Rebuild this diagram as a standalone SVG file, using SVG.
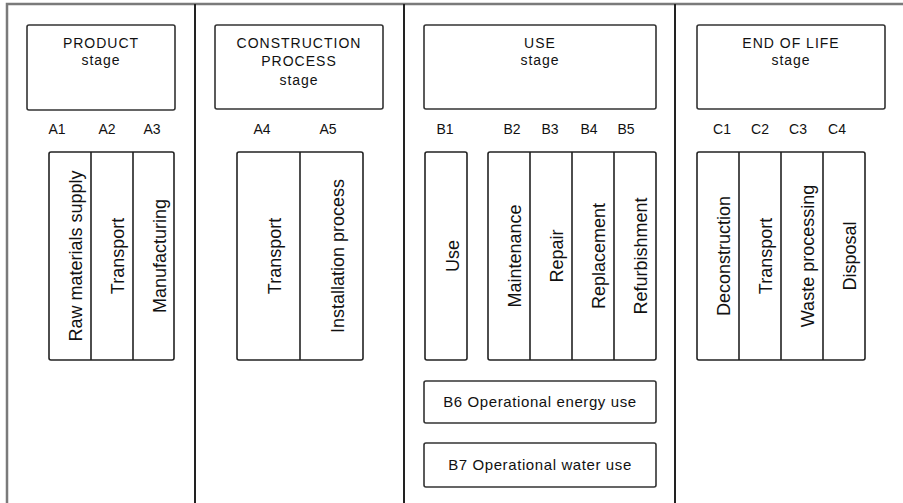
<svg xmlns="http://www.w3.org/2000/svg" width="903" height="503" viewBox="0 0 903 503">
<style>
.frame{fill:none;stroke:#7a7a7a;stroke-width:2.5}
.div{fill:none;stroke:#222;stroke-width:2}
.box{fill:#fff;stroke:#333;stroke-width:1.6}
.cell{fill:#fff;stroke:#222;stroke-width:1.6}
.hd{font-family:"Liberation Sans",Arial,sans-serif;font-size:14px;letter-spacing:1px;text-anchor:middle;fill:#111}
.lab{font-family:"Liberation Sans",Arial,sans-serif;font-size:14px;text-anchor:middle;fill:#111}
.rot{font-family:"Liberation Sans",Arial,sans-serif;font-size:18px;text-anchor:middle;fill:#111}
.op{font-family:"Liberation Sans",Arial,sans-serif;font-size:15px;letter-spacing:0.6px;text-anchor:middle;fill:#111}
</style>
<rect width="903" height="503" fill="#fff"/>
<g id="frame">
<path class="frame" d="M7,503 V4 H903"/>
<path class="div" d="M195,4 V503 M404,4 V503 M675,4 V503"/>
</g>
<g id="connectors"></g>

<g id="product-stage">
<rect class="box" x="27" y="25" width="148" height="85" rx="2"/>
<text class="hd" x="101" y="48">PRODUCT</text>
<text class="hd" x="101" y="65">stage</text>
</g>
<g id="labels-a1-a3">
<text class="lab" x="57" y="134">A1</text>
<text class="lab" x="107" y="134">A2</text>
<text class="lab" x="152" y="134">A3</text>
</g>
<g id="product-modules">
<rect class="cell" x="49" y="152" width="125" height="208" rx="2"/>
<path class="cell" d="M91,152 V360 M133,152 V360"/>
<text class="rot" transform="translate(70,256) rotate(-90)" y="12">Raw materials supply</text>
<text class="rot" transform="translate(112,256) rotate(-90)" y="12">Transport</text>
<text class="rot" transform="translate(153.5,256) rotate(-90)" y="12">Manufacturing</text>
</g>

<g id="construction-stage">
<rect class="box" x="215" y="25" width="168" height="84" rx="2"/>
<text class="hd" x="299" y="48">CONSTRUCTION</text>
<text class="hd" x="299" y="66">PROCESS</text>
<text class="hd" x="299" y="85">stage</text>
</g>
<g id="labels-a4-a5">
<text class="lab" x="262" y="134">A4</text>
<text class="lab" x="328" y="134">A5</text>
</g>
<g id="construction-modules">
<rect class="cell" x="237" y="152" width="126" height="208" rx="2"/>
<path class="cell" d="M300,152 V360"/>
<text class="rot" transform="translate(268.5,256) rotate(-90)" y="12">Transport</text>
<text class="rot" transform="translate(331.5,256) rotate(-90)" y="12">Installation process</text>
</g>

<g id="use-stage">
<rect class="box" x="424" y="25" width="232" height="84" rx="2"/>
<text class="hd" x="540" y="48">USE</text>
<text class="hd" x="540" y="65">stage</text>
</g>
<g id="labels-b1-b5">
<text class="lab" x="445" y="134">B1</text>
<text class="lab" x="512" y="134">B2</text>
<text class="lab" x="550" y="134">B3</text>
<text class="lab" x="589" y="134">B4</text>
<text class="lab" x="626" y="134">B5</text>
</g>
<g id="use-b1">
<rect class="cell" x="425" y="152" width="42" height="208" rx="2"/>
<text class="rot" transform="translate(446,256) rotate(-90)" y="13">Use</text>
</g>
<g id="use-b2-b5">
<rect class="cell" x="488" y="152" width="168" height="208" rx="2"/>
<path class="cell" d="M530,152 V360 M572,152 V360 M614,152 V360"/>
<text class="rot" transform="translate(509,256) rotate(-90)" y="12">Maintenance</text>
<text class="rot" transform="translate(551,256) rotate(-90)" y="12">Repair</text>
<text class="rot" transform="translate(593,256) rotate(-90)" y="12">Replacement</text>
<text class="rot" transform="translate(635,256) rotate(-90)" y="12">Refurbishment</text>
</g>
<g id="use-b6">
<rect class="box" x="424" y="381" width="232" height="42" rx="2"/>
<text class="op" x="540" y="407">B6 Operational energy use</text>
</g>
<g id="use-b7">
<rect class="box" x="424" y="443" width="232" height="44" rx="2"/>
<text class="op" x="540" y="470">B7 Operational water use</text>
</g>

<g id="end-of-life-stage">
<rect class="box" x="697" y="25" width="188" height="84" rx="2"/>
<text class="hd" x="791" y="48">END OF LIFE</text>
<text class="hd" x="791" y="65">stage</text>
</g>
<g id="labels-c1-c4">
<text class="lab" x="722" y="134">C1</text>
<text class="lab" x="760" y="134">C2</text>
<text class="lab" x="798" y="134">C3</text>
<text class="lab" x="837" y="134">C4</text>
</g>
<g id="end-of-life-modules">
<rect class="cell" x="697" y="152" width="168" height="208" rx="2"/>
<path class="cell" d="M739,152 V360 M781,152 V360 M823,152 V360"/>
<text class="rot" transform="translate(718,256) rotate(-90)" y="12">Deconstruction</text>
<text class="rot" transform="translate(760,256) rotate(-90)" y="12">Transport</text>
<text class="rot" transform="translate(802,256) rotate(-90)" y="12">Waste processing</text>
<text class="rot" transform="translate(844,256) rotate(-90)" y="12">Disposal</text>
</g>
</svg>
